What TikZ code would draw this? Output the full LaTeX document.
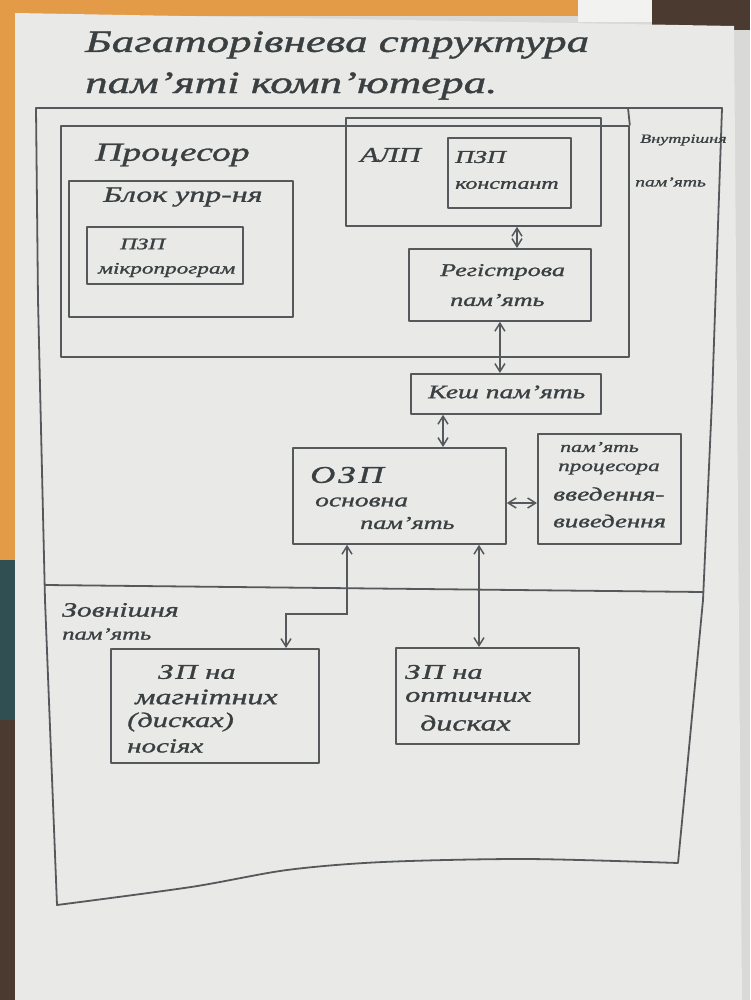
\documentclass[tikz,border=0pt]{standalone}
\usepackage{fontspec}
\setmainfont{Liberation Serif}
\newfontfamily\hand[FakeStretch=1.45, FakeBold=1.2]{Liberation Serif}
\usetikzlibrary{arrows.meta,calc}
\definecolor{pencil}{HTML}{55595B}
\definecolor{ink}{HTML}{3A3F41}
\definecolor{paper}{HTML}{E9E9E7}
\definecolor{desk}{HTML}{E39B47}
\definecolor{deskdark}{HTML}{4B3A30}
\definecolor{deskteal}{HTML}{2F4F52}
\definecolor{sheet}{HTML}{F2F2F0}
\definecolor{under}{HTML}{D9D9D7}

\begin{document}
\begin{tikzpicture}[x=1pt,y=-1pt,
  pen/.style={draw=pencil, line width=1.8pt, line join=round, line cap=round},
  box/.style={pen, rectangle, inner sep=0pt, anchor=north west},
  lbl/.style 2 args={text=ink, inner sep=0pt, anchor=west,
    font=\hand\itshape\fontsize{#1}{#2}\selectfont},
  dbl/.style={draw=pencil, line width=1.5pt, line cap=round,
    {Straight Barb[length=8pt,width=10pt]}-{Straight Barb[length=8pt,width=10pt]}},
]
% desk and sheet of paper
\useasboundingbox (0,0) rectangle (750,1000);
\fill[under] (0,0) rectangle (750,1000);
\fill[desk] (0,0) -- (578,0) -- (578,16) -- (16,16) -- (16,610) -- (0,610) -- cycle;
\fill[deskteal] (0,560) rectangle (16,720);
\fill[deskdark] (0,720) rectangle (16,1000);
\fill[deskdark] (652,0) rectangle (750,30);
\fill[sheet] (578,0) -- (652,0) -- (652,22) -- (578,22) -- cycle;
\fill[paper] (15,13) -- (734,26) -- (742,1000) -- (15,1000) -- cycle;

% title
\node[lbl={31}{31}] (title1) at (85,45) {Багаторівнева структура};
\node[lbl={31}{31}] (title2) at (85,86) {пам’яті комп’ютера.};

% outer frame: internal and external memory
\draw[pen] (36,108) -- (722,108) -- (712,400) -- (703,600) -- (686,780) -- (678,863)
  -- plot[smooth] coordinates {(678,863) (526,859) (383,862) (287,870) (191,887) (57,905)}
  -- (45,600) -- (38,300) -- cycle;
\draw[pen] (45,585) -- (703,592);

% processor
\node[box, minimum width=568pt, minimum height=231pt] (proc) at (60,125) {};
\coordinate (otop) at (628,108);
\draw[pen] (proc.north east) -- (otop);
\node[box, minimum width=224pt, minimum height=136pt] (cu) at (68,180) {};
\node[box, minimum width=156pt, minimum height=57pt] (mrom) at (86,226) {};
\node[box, minimum width=255pt, minimum height=108pt] (alu) at (345,117) {};
\node[box, minimum width=123pt, minimum height=70pt] (crom) at (447,137) {};
\node[box, minimum width=182pt, minimum height=72pt] (reg) at (408,248) {};

% memory levels
\node[box, minimum width=190pt, minimum height=40pt] (cache) at (410,373) {};
\node[box, minimum width=213pt, minimum height=96pt] (ram) at (292,447) {};
\node[box, minimum width=143pt, minimum height=110pt] (io) at (537,433) {};
\node[box, minimum width=208pt, minimum height=114pt] (mag) at (110,648) {};
\node[box, minimum width=183pt, minimum height=96pt] (opt) at (395,647) {};

% labels
\node[lbl={26}{26}] (tproc) at (95,155) {Процесор};
\node[lbl={22}{22}] (tcu) at (103,197) {Блок упр-ня};
\node[lbl={16}{16}] (tmrom1) at (120,244) {ПЗП};
\node[lbl={16}{16}] (tmrom2) at (98,270) {мікропрограм};
\node[lbl={21}{21}] (talu) at (360,155) {АЛП};
\node[lbl={18}{18}] (tcrom1) at (455,157) {ПЗП};
\node[lbl={16.5}{16.5}] (tcrom2) at (455,185) {констант};
\node[lbl={18}{18}] (treg1) at (440,272) {Регістрова};
\node[lbl={18}{18}] (treg2) at (450,300) {пам’ять};
\node[lbl={12.5}{12.5}] (tin1) at (640,140) {Внутрішня};
\node[lbl={13.5}{13.5}] (tin2) at (635,182) {пам’ять};
\node[lbl={19}{19}] (tcache) at (428,392) {Кеш пам’ять};
\node[lbl={24}{24}] (tram1) at (310,475) {О\hspace{3pt}З\hspace{3pt}П};
\node[lbl={19}{19}] (tram2) at (315,502) {основна};
\node[lbl={18}{18}] (tram3) at (360,523) {пам’ять};
\node[lbl={15}{15}] (tio1) at (560,447) {пам’ять};
\node[lbl={16}{16}] (tio2) at (558,469) {процесора};
\node[lbl={19}{19}] (tio3) at (553,494) {введення-};
\node[lbl={18.5}{18.5}] (tio4) at (553,521) {виведення};
\node[lbl={20.5}{20.5}] (tex1) at (62,610) {Зовнішня};
\node[lbl={17}{17}] (tex2) at (62,634) {пам’ять};
\node[lbl={21}{21}] (tmag1) at (158,672) {З\hspace{2pt}П\hspace{8pt}на};
\node[lbl={22}{22}] (tmag2) at (135,697) {магнітних};
\node[lbl={21}{21}] (tmag3) at (127,722) {(дисках)};
\node[lbl={20}{20}] (tmag4) at (127,746) {носіях};
\node[lbl={21}{21}] (topt1) at (405,672) {З\hspace{2pt}П\hspace{8pt}на};
\node[lbl={21}{21}] (topt2) at (405,697) {оптичних};
\node[lbl={22}{22}] (topt3) at (420,723) {дисках};

% connectors
\coordinate (xalu) at (517,0);
\coordinate (xram) at (443,0);
\coordinate (yio) at (0,503);
\coordinate (bend) at (347,614);
\coordinate (xmag) at (286,0);
\coordinate (xopt) at (479,0);
\draw[dbl] (alu.south -| xalu) -- (reg.north -| xalu);
\draw[dbl] (reg.south) -- (reg.south |- cache.north);
\draw[dbl] (cache.south -| xram) -- (ram.north -| xram);
\draw[dbl] (ram.east |- yio) -- (io.west |- yio);
\draw[dbl] (ram.south -| bend) -- (bend) -| (mag.north -| xmag);
\draw[dbl] (ram.south -| xopt) -- (opt.north -| xopt);
\end{tikzpicture}
\end{document}
